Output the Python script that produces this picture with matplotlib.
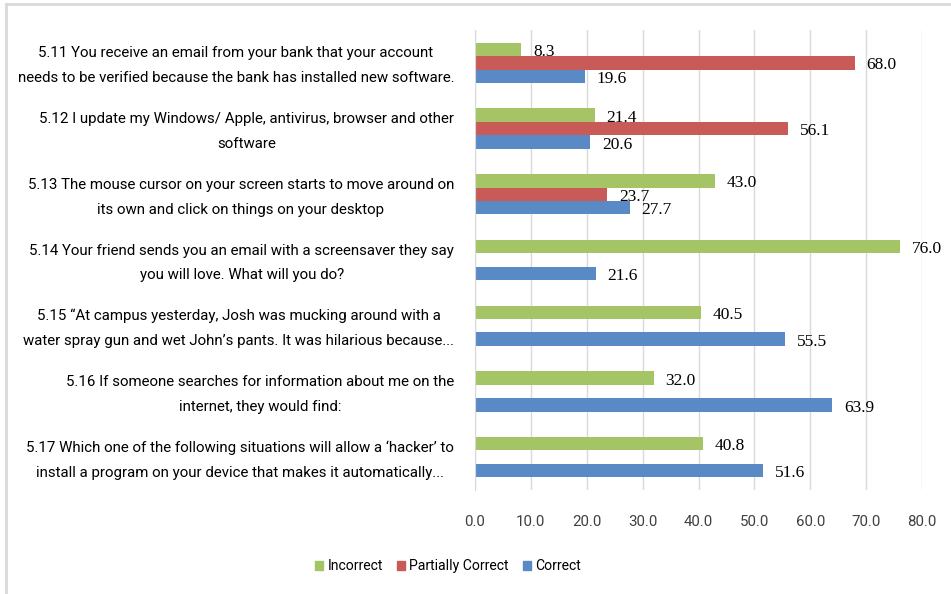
import numpy as np
import matplotlib
matplotlib.use('Agg')
import matplotlib.pyplot as plt
from matplotlib.lines import Line2D
from matplotlib.transforms import ScaledTranslation

# -------------------- data --------------------
questions = [
    "5.11 You receive an email from your bank that your account\nneeds to be verified because the bank has installed new software.",
    "5.12 I update my Windows/ Apple, antivirus, browser and other\nsoftware",
    "5.13 The mouse cursor on your screen starts to move around on\nits own and click on things on your desktop",
    "5.14 Your friend sends you an email with a screensaver they say\nyou will love. What will you do?",
    "5.15 \u201cAt campus yesterday, Josh was mucking around with a\nwater spray gun and wet John\u2019s pants. It was hilarious because...",
    "5.16 If someone searches for information about me on the\ninternet, they would find:",
    "5.17 Which one of the following situations will allow a \u2018hacker\u2019 to\ninstall a program on your device that makes it automatically...",
]
incorrect = [8.3, 21.4, 43.0, 76.0, 40.5, 32.0, 40.8]
partial = [68.0, 56.1, 23.7, None, None, None, None]
correct = [19.6, 20.6, 27.7, 21.6, 55.5, 63.9, 51.6]
series_names = ["Incorrect", "Partially Correct", "Correct"]
series_colors = ["#A5C465", "#C85A57", "#5A8AC6"]
xticks = [0, 10, 20, 30, 40, 50, 60, 70, 80]

LABEL_FONT = ['Roboto', 'DejaVu Sans']
VALUE_FONT = ['Liberation Serif', 'DejaVu Serif']

W, H = 951, 594
fig = plt.figure(figsize=(W / 100, H / 100), dpi=100)
renderer = fig.canvas.get_renderer()


def fit_size(s, target_px, base=12.0):
    # font size that makes the text s about target_px wide
    t = fig.text(0, 0, s, family=LABEL_FONT, fontsize=base)
    w = t.get_window_extent(renderer).width
    t.remove()
    return base * target_px / w


lab_size = fit_size("needs to be verified because the bank has installed new software.", 438)
tick_size = lab_size
leg_size = lab_size * 0.93

ax = fig.add_axes([475 / W, 1 - 490 / H, (922 - 475) / W, (490 - 30) / H])

bar_h = 0.205
y = np.arange(len(questions))
for k, (vals, name, col) in enumerate(zip([incorrect, partial, correct], series_names, series_colors)):
    offs = (k - 1) * bar_h
    for i, v in enumerate(vals):
        if v is None:
            continue
        ax.barh(y[i] + offs, v, height=bar_h, color=col, edgecolor='none', zorder=2)
        ax.text(v + 2.1, y[i] + offs + 0.04, f"{v:.1f}", va='center', ha='left',
                fontsize=12.5, family=VALUE_FONT, color='#000000', zorder=3)

ax.set_ylim(len(questions) - 0.5, -0.5)
ax.set_xlim(0, 80)
ax.set_xticks(xticks)
ax.set_xticklabels([f"{t:.1f}" for t in xticks], family=LABEL_FONT, fontsize=tick_size, color='#404040')
ax.set_yticks(y)
ax.set_yticklabels(questions, family=LABEL_FONT, fontsize=lab_size, color='#000000',
                   multialignment='center', linespacing=2.0)
ax.tick_params(axis='y', length=0, pad=15)
ax.tick_params(axis='x', length=0, pad=18)
# nudge the question labels up a little
shift = ScaledTranslation(0, 4 / 100, fig.dpi_scale_trans)
for lbl in ax.get_yticklabels():
    lbl.set_transform(lbl.get_transform() + shift)
ax.grid(axis='x', color='#D9D9D9', linewidth=1, zorder=0)
for s in ['top', 'right', 'bottom']:
    ax.spines[s].set_visible(False)
ax.spines['left'].set_color('#D9D9D9')

handles = [plt.Rectangle((0, 0), 1, 1, color=c) for c in series_colors]
fig.legend(handles, series_names, loc='center', bbox_to_anchor=(448 / W, 1 - 566 / H),
           ncol=3, frameon=False, handlelength=0.6, handleheight=0.6, handletextpad=0.3,
           columnspacing=1.0, prop={'family': LABEL_FONT, 'size': leg_size})

# outer border remnants
fig.add_artist(Line2D([6 / W, 1], [1 - 4 / H, 1 - 4 / H], color='#D9D9D9', linewidth=2))
fig.add_artist(Line2D([6 / W, 6 / W], [0, 1 - 4 / H], color='#D9D9D9', linewidth=2))

fig.savefig('out.png', dpi=100)
